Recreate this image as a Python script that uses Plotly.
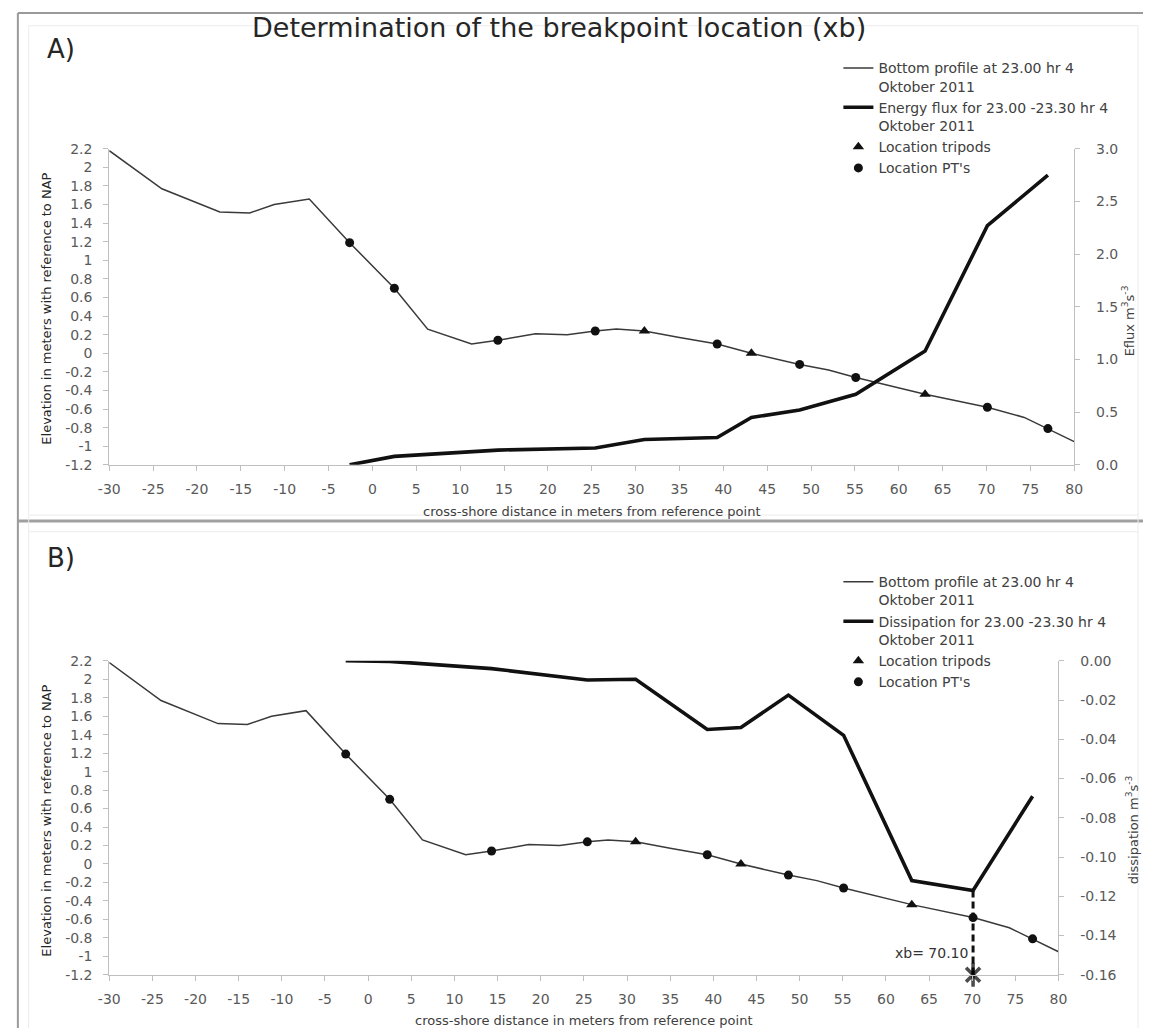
import plotly.graph_objects as go

# ---------------------------------------------------------------------------
# Data
# ---------------------------------------------------------------------------
# Bottom profile at 23.00 hr, 4 Oktober 2011 (cross-shore distance [m], elevation [m NAP])
profile_x = [-30.0, -24.0, -17.4, -14.0, -11.2, -7.2, -2.6, 2.5, 6.3, 11.3, 14.3,
             18.6, 22.2, 25.4, 27.8, 31.0, 35.0, 39.3, 43.2, 48.7, 52.0, 55.1,
             63.0, 70.1, 74.3, 77.0, 80.0]
profile_z = [2.18, 1.77, 1.52, 1.51, 1.60, 1.66, 1.19, 0.70, 0.26, 0.10, 0.14,
             0.21, 0.20, 0.24, 0.26, 0.24, 0.17, 0.10, 0.00, -0.12, -0.18, -0.26,
             -0.44, -0.58, -0.69, -0.81, -0.95]

# Instrument locations on the profile
tripod_x = [31.0, 43.2, 63.0]
tripod_z = [0.24, 0.00, -0.44]
pt_x = [-2.6, 2.5, 14.3, 25.4, 39.3, 48.7, 55.1, 70.1, 77.0]
pt_z = [1.19, 0.70, 0.14, 0.24, 0.10, -0.12, -0.26, -0.58, -0.81]

# Energy flux and dissipation at the instruments, 23.00 - 23.30 hr
instr_x = [-2.6, 2.5, 14.3, 25.4, 31.0, 39.3, 43.2, 48.7, 55.1, 63.0, 70.1, 77.0]
eflux = [0.00, 0.08, 0.14, 0.16, 0.24, 0.26, 0.45, 0.52, 0.67, 1.08, 2.27, 2.75]
dissipation = [0.000, -0.0003, -0.004, -0.0098, -0.0094, -0.035, -0.034, -0.0175,
               -0.038, -0.112, -0.117, -0.069]

# Breakpoint location
xb = 70.10

# Axis ticks
x_ticks = list(range(-30, 81, 5))
x_ticktext = [str(v) for v in x_ticks]
elev_ticks = [-1.2, -1.0, -0.8, -0.6, -0.4, -0.2, 0.0, 0.2, 0.4, 0.6, 0.8,
              1.0, 1.2, 1.4, 1.6, 1.8, 2.0, 2.2]
elev_ticktext = ["-1.2", "-1", "-0.8", "-0.6", "-0.4", "-0.2", "0", "0.2", "0.4",
                 "0.6", "0.8", "1", "1.2", "1.4", "1.6", "1.8", "2", "2.2"]
eflux_ticks = [0.0, 0.5, 1.0, 1.5, 2.0, 2.5, 3.0]
eflux_ticktext = ["0.0", "0.5", "1.0", "1.5", "2.0", "2.5", "3.0"]
diss_ticks = [-0.16, -0.14, -0.12, -0.10, -0.08, -0.06, -0.04, -0.02, 0.00]
diss_ticktext = ["-0.16", "-0.14", "-0.12", "-0.10", "-0.08", "-0.06", "-0.04",
                 "-0.02", "0.00"]

# ---------------------------------------------------------------------------
# Layout helpers (pixel positions on a 1152 x 1036 canvas)
# ---------------------------------------------------------------------------
W, H = 1152, 1036


def px(x):
    return x / W


def py(y):
    return 1 - y / H


FONT = "DejaVu Sans, Verdana, sans-serif"
TICK_COLOR = "#595959"
AXIS_COLOR = "#bfbfbf"
PROFILE_NAME = "Bottom profile at 23.00 hr 4<br>Oktober 2011"

fig = go.Figure()

# ---------------- Panel A: profile + energy flux ----------------
fig.add_trace(go.Scatter(x=profile_x, y=profile_z, mode="lines",
                         line=dict(color="#3a3a3a", width=1.5),
                         name=PROFILE_NAME, xaxis="x", yaxis="y", legend="legend"))
fig.add_trace(go.Scatter(x=instr_x, y=eflux, mode="lines",
                         line=dict(color="#111111", width=3.6),
                         name="Energy flux for 23.00 -23.30 hr 4<br>Oktober 2011",
                         xaxis="x", yaxis="y2", legend="legend"))
fig.add_trace(go.Scatter(x=tripod_x, y=tripod_z, mode="markers",
                         marker=dict(symbol="triangle-up", size=10, color="#111111"),
                         name="Location tripods", xaxis="x", yaxis="y", legend="legend"))
fig.add_trace(go.Scatter(x=pt_x, y=pt_z, mode="markers",
                         marker=dict(symbol="circle", size=9, color="#111111"),
                         name="Location PT's", xaxis="x", yaxis="y", legend="legend"))

# ---------------- Panel B: profile + dissipation ----------------
fig.add_trace(go.Scatter(x=profile_x, y=profile_z, mode="lines",
                         line=dict(color="#3a3a3a", width=1.5),
                         name=PROFILE_NAME, xaxis="x2", yaxis="y3", legend="legend2"))
fig.add_trace(go.Scatter(x=instr_x, y=dissipation, mode="lines",
                         line=dict(color="#111111", width=3.6),
                         name="Dissipation for 23.00 -23.30 hr 4<br>Oktober 2011",
                         xaxis="x2", yaxis="y4", legend="legend2"))
fig.add_trace(go.Scatter(x=tripod_x, y=tripod_z, mode="markers",
                         marker=dict(symbol="triangle-up", size=10, color="#111111"),
                         name="Location tripods", xaxis="x2", yaxis="y3", legend="legend2"))
fig.add_trace(go.Scatter(x=pt_x, y=pt_z, mode="markers",
                         marker=dict(symbol="circle", size=9, color="#111111"),
                         name="Location PT's", xaxis="x2", yaxis="y3", legend="legend2"))

# Breakpoint marker: dashed drop line from the dissipation at xb down to the axis
ib = instr_x.index(round(xb, 1))
fig.add_trace(go.Scatter(x=[xb, xb], y=[dissipation[ib], diss_ticks[0]], mode="lines",
                         line=dict(color="#111111", width=3, dash="7px,4px"),
                         showlegend=False, xaxis="x2", yaxis="y4"))
fig.add_trace(go.Scatter(x=[xb, xb], y=[diss_ticks[0], diss_ticks[0]], mode="markers",
                         marker=dict(symbol=["x-thin", "line-ns"], size=[14, 17],
                                     line=dict(color="#000000", width=3.5)),
                         showlegend=False, cliponaxis=False, xaxis="x2", yaxis="y4"))

# ---------------------------------------------------------------------------
# Axes
# ---------------------------------------------------------------------------
tick_font = dict(family=FONT, size=14, color=TICK_COLOR)


def x_axis(domain, anchor):
    return dict(domain=domain, anchor=anchor, range=[-30, 80], tickvals=x_ticks,
                ticktext=x_ticktext, showline=True, linecolor=AXIS_COLOR, linewidth=1,
                ticks="outside", ticklen=5, tickcolor=AXIS_COLOR, showgrid=False,
                zeroline=False, tickfont=tick_font, ticklabelstandoff=6, fixedrange=True)


def y_left(domain, anchor):
    return dict(domain=domain, anchor=anchor, range=[-1.2, 2.2], tickvals=elev_ticks,
                ticktext=elev_ticktext, showline=True, linecolor=AXIS_COLOR, linewidth=1,
                ticks="outside", ticklen=5, tickcolor=AXIS_COLOR, showgrid=False,
                zeroline=False, tickfont=tick_font, ticklabelstandoff=8, fixedrange=True)


def y_right(overlay, anchor, rng, vals, text):
    return dict(overlaying=overlay, anchor=anchor, side="right", range=rng,
                tickvals=vals, ticktext=text, showline=True, linecolor=AXIS_COLOR,
                linewidth=1, ticks="outside", ticklen=5, tickcolor=AXIS_COLOR,
                showgrid=False, zeroline=False, tickfont=tick_font,
                ticklabelstandoff=13, fixedrange=True)


fig.update_layout(
    xaxis=x_axis([px(100), px(1082)], "y"),
    yaxis=y_left([py(464), py(143)], "x"),
    yaxis2=y_right("y", "x", [0, 3.0], eflux_ticks, eflux_ticktext),
    xaxis2=x_axis([px(100), px(1066)], "y3"),
    yaxis3=y_left([py(982), py(663)], "x2"),
    yaxis4=y_right("y3", "x2", [-0.16, 0.0], diss_ticks, diss_ticktext),
)

# ---------------------------------------------------------------------------
# Legends
# ---------------------------------------------------------------------------
legend_style = dict(font=dict(family=FONT, size=14, color="#404040"),
                    bgcolor="rgba(0,0,0,0)", valign="top", xanchor="left",
                    yanchor="top", tracegroupgap=0, itemclick=False,
                    itemdoubleclick=False)
fig.update_layout(
    legend=dict(x=px(842), y=py(45), **legend_style),
    legend2=dict(x=px(842), y=py(567), **legend_style),
)

# ---------------------------------------------------------------------------
# Text
# ---------------------------------------------------------------------------
annotations = [
    dict(text="Determination of the breakpoint location (xb)", x=px(558), y=py(20),
         font=dict(family=FONT, size=27, color="#262626")),
    dict(text="A)", x=px(51), y=py(42), font=dict(family=FONT, size=26, color="#262626")),
    dict(text="B)", x=px(51), y=py(559), font=dict(family=FONT, size=26, color="#262626")),
    dict(text="cross-shore distance in meters from reference point", x=px(591),
         y=py(511), font=dict(family=FONT, size=13, color="#404040")),
    dict(text="cross-shore distance in meters from reference point", x=px(583),
         y=py(1028), font=dict(family=FONT, size=13, color="#404040")),
    dict(text="Elevation in meters with reference to NAP", x=px(36), y=py(305),
         textangle=-90, font=dict(family=FONT, size=13, color="#262626")),
    dict(text="Elevation in meters with reference to NAP", x=px(36), y=py(825),
         textangle=-90, font=dict(family=FONT, size=13, color="#262626")),
    dict(text="Eflux m<sup>3</sup>s<sup>-3</sup>", x=px(1137), y=py(318),
         textangle=-90, font=dict(family=FONT, size=13, color="#404040")),
    dict(text="dissipation m<sup>3</sup>s<sup>-3</sup>", x=px(1141), y=py(835),
         textangle=-90, font=dict(family=FONT, size=13, color="#404040")),
]
for a in annotations:
    a.update(xref="paper", yref="paper", showarrow=False, xanchor="center",
             yanchor="middle")
annotations.append(dict(text="xb= " + f"{xb:.2f}", x=xb, y=-0.149, xref="x2", yref="y4",
                        xanchor="right", yanchor="middle", xshift=-3, showarrow=False,
                        font=dict(family=FONT, size=14, color="#333333")))
fig.update_layout(annotations=annotations)

# Chart frames
frame = dict(type="line", xref="paper", yref="paper", layer="below")
shapes = [
    dict(x0=px(7), x1=px(7), y0=0, y1=py(5), line=dict(color="#9a9a9a", width=2), **frame),
    dict(x0=px(7), x1=1, y0=py(5), y1=py(5), line=dict(color="#9a9a9a", width=2), **frame),
    dict(x0=px(7), x1=1, y0=py(521), y1=py(521), line=dict(color="#a0a0a0", width=3), **frame),
    dict(x0=px(18), x1=px(18), y0=0, y1=py(18), line=dict(color="#ececec", width=1), **frame),
    dict(x0=px(18), x1=px(1147), y0=py(18), y1=py(18), line=dict(color="#ececec", width=1), **frame),
    dict(x0=px(1147), x1=px(1147), y0=0, y1=py(18), line=dict(color="#ececec", width=1), **frame),
    dict(x0=px(18), x1=px(1147), y0=py(515), y1=py(515), line=dict(color="#ececec", width=1), **frame),
    dict(x0=px(18), x1=px(1147), y0=py(532), y1=py(532), line=dict(color="#ececec", width=1), **frame),
]

fig.update_layout(
    shapes=shapes,
    width=W, height=H,
    margin=dict(l=0, r=0, t=0, b=0),
    paper_bgcolor="white", plot_bgcolor="white",
    font=dict(family=FONT, color="#404040"),
    hovermode=False,
)

fig.write_html("out.html", config={"displayModeBar": False, "staticPlot": True})
